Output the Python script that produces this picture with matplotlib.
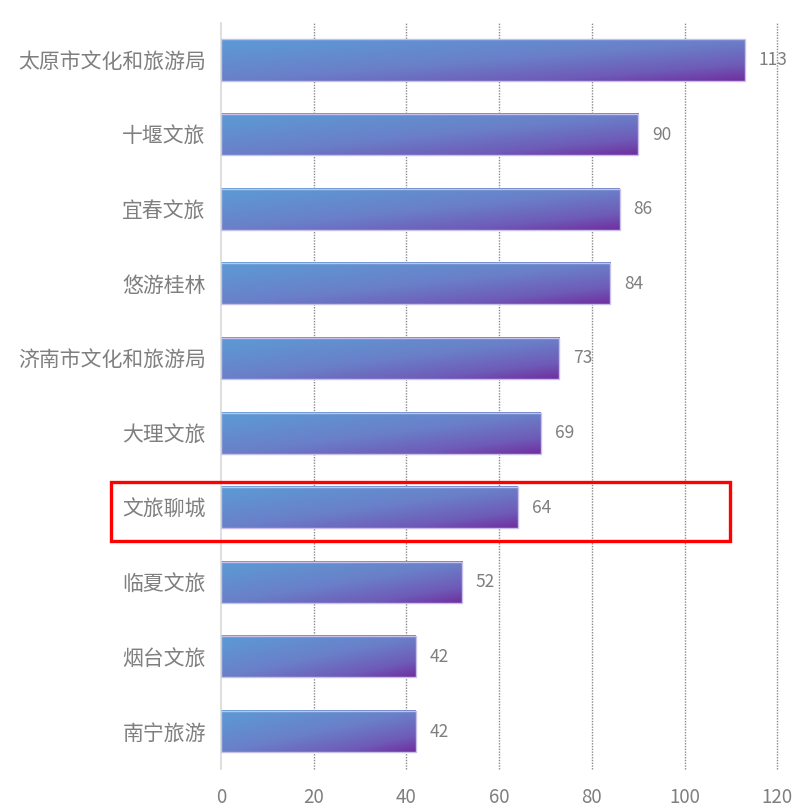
import numpy as np
import matplotlib.pyplot as plt
from matplotlib.colors import LinearSegmentedColormap
from matplotlib.patches import Rectangle
from matplotlib.transforms import blended_transform_factory

plt.rcParams['font.family'] = ['Noto Sans CJK SC', 'DejaVu Sans']

# 数据
names = ['太原市文化和旅游局', '十堰文旅', '宜春文旅', '悠游桂林', '济南市文化和旅游局',
         '大理文旅', '文旅聊城', '临夏文旅', '烟台文旅', '南宁旅游']
values = [113, 90, 86, 84, 73, 69, 64, 52, 42, 42]
highlight = '文旅聊城'
x_ticks = [0, 20, 40, 60, 80, 100, 120]

text_gray = '#7f7f7f'
cmap = LinearSegmentedColormap.from_list(
    'bar', [(0.0, '#5b9bd5'), (0.5, '#6a80c9'), (0.8, '#6e5cb8'), (1.0, '#7030a0')])

fig = plt.figure(figsize=(7.98, 8.11), dpi=100)
ax = fig.add_axes([0.277, 0.052, 0.697, 0.920])

n = len(names)
y_pos = np.arange(n)
bar_h = 0.55

# 渐变色填充（左上蓝 -> 右下紫）
u = np.linspace(0, 1, 200)
v = np.linspace(0, 1, 40)
U, V = np.meshgrid(u, v)
grad = (U + V) / 2

for yi, val in zip(y_pos, values):
    ax.imshow(grad, cmap=cmap, vmin=0, vmax=1, aspect='auto', interpolation='bilinear',
              extent=[0, val, yi + bar_h / 2, yi - bar_h / 2], zorder=2)
    ax.add_patch(Rectangle((0, yi - bar_h / 2), val, bar_h, fill=False,
                           edgecolor='#c9c0ea', linewidth=1.0, zorder=3))
    ax.annotate(str(val), xy=(val, yi), xytext=(10, 0), textcoords='offset points',
                ha='left', va='center', fontsize=12.5, color=text_gray)

ax.set_xlim(0, 120)
ax.set_ylim(n - 0.5, -0.5)
ax.set_xticks(x_ticks)
ax.set_yticks(y_pos)
ax.set_yticklabels(names, fontsize=15, color=text_gray)
ax.tick_params(axis='x', length=0, pad=13, labelsize=13.5, labelcolor=text_gray)
ax.tick_params(axis='y', length=0, pad=11)

for gx in x_ticks[1:]:
    ax.axvline(gx, color='#8a8a8a', linestyle=(0, (1, 1)), linewidth=1.0, zorder=1,
               clip_on=False)

for s in ['top', 'right', 'bottom']:
    ax.spines[s].set_visible(False)
ax.spines['left'].set_color('#d9d9d9')
ax.spines['left'].set_linewidth(1.2)

# 高亮框
hi = names.index(highlight)
trans = blended_transform_factory(fig.transFigure, ax.transData)
fig.patches.append(Rectangle((0.139, hi - 0.34), 0.776, 0.78, transform=trans,
                             fill=False, edgecolor='#ff0000', linewidth=2.4, zorder=5))

fig.savefig('out.png', dpi=100)
